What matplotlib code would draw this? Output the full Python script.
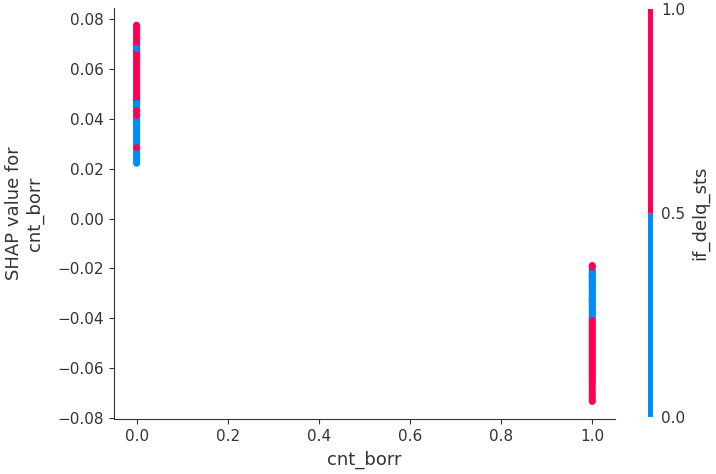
import numpy as np
import matplotlib
matplotlib.use("Agg")
import matplotlib.pyplot as plt
from matplotlib.colors import ListedColormap, Normalize
from matplotlib.cm import ScalarMappable

# ---- data ----
feature_name = "cnt_borr"
color_feature = "if_delq_sts"

# x = 0 group
x0_red_shap = [0.0776, 0.0769, 0.0761, 0.0752, 0.0745, 0.0736, 0.0728, 0.0719, 0.0711,
               0.0703, 0.0694, 0.0686, 0.0677, 0.0670, 0.0661, 0.0653, 0.0645, 0.0636,
               0.0628, 0.0619, 0.0612, 0.0603, 0.0595, 0.0586, 0.0578, 0.0570, 0.0561,
               0.0553, 0.0545, 0.0537, 0.0528, 0.0520, 0.0512, 0.0503, 0.0495, 0.0487,
               0.0479, 0.0471, 0.0464]
x0_blue_shap = [0.0462, 0.0455, 0.0447, 0.0440, 0.0432, 0.0425, 0.0417, 0.0409, 0.0402,
                0.0395, 0.0387, 0.0380, 0.0372, 0.0364, 0.0357, 0.0349, 0.0342, 0.0334,
                0.0327, 0.0319, 0.0312, 0.0304, 0.0297, 0.0289, 0.0282, 0.0274, 0.0266,
                0.0259, 0.0251, 0.0244, 0.0236, 0.0229, 0.0222]
x0_blue_top = [0.0683]
x0_red_top = [0.0434, 0.0414, 0.0285]

# x = 1 group
x1_red_under = [-0.0232, -0.0268, -0.0330]
x1_blue_shap = [-0.0207, -0.0214, -0.0221, -0.0228, -0.0236, -0.0243, -0.0250, -0.0258,
                -0.0265, -0.0272, -0.0280, -0.0287, -0.0294, -0.0302, -0.0309, -0.0316,
                -0.0324, -0.0331, -0.0338, -0.0346, -0.0353, -0.0360, -0.0368, -0.0375,
                -0.0382, -0.0390, -0.0397, -0.0404]
x1_red_shap = [-0.0189, -0.0195, -0.0410, -0.0418, -0.0426, -0.0433, -0.0441, -0.0449,
               -0.0457, -0.0464, -0.0472, -0.0480, -0.0488, -0.0495, -0.0503, -0.0511,
               -0.0519, -0.0526, -0.0534, -0.0542, -0.0550, -0.0557, -0.0565, -0.0573,
               -0.0581, -0.0588, -0.0596, -0.0604, -0.0612, -0.0619, -0.0627, -0.0635,
               -0.0643, -0.0652, -0.0661, -0.0672, -0.0684, -0.0697, -0.0708, -0.0718,
               -0.0727, -0.0734]

# plotting order: (cnt_borr value, delq value, shap list)
groups = [
    (0.0, 1, x0_red_shap),
    (0.0, 0, x0_blue_shap),
    (0.0, 0, x0_blue_top),
    (0.0, 1, x0_red_top),
    (1.0, 1, x1_red_under),
    (1.0, 0, x1_blue_shap),
    (1.0, 1, x1_red_shap),
]

xs, ys, cs = [], [], []
for xv, cv, vals in groups:
    for v in vals:
        xs.append(xv)
        ys.append(v)
        cs.append(cv)
xs = np.array(xs); ys = np.array(ys); cs = np.array(cs)

axis_color = "#333333"
red = "#ff0052"
blue = "#008bfb"
cmap = ListedColormap([blue, red])
norm = Normalize(vmin=0, vmax=1)

fig = plt.figure(figsize=(7.16, 4.74), dpi=100)
ax = fig.add_axes([0.159, 0.116, 0.700, 0.867])
ax.scatter(xs, ys, c=cs, cmap=cmap, norm=norm, s=26, linewidth=0, alpha=1)

ax.set_xlim(-0.05, 1.05)
ax.set_ylim(-0.0805, 0.0845)
ax.set_xticks([0.0, 0.2, 0.4, 0.6, 0.8, 1.0])
ax.set_yticks([-0.08, -0.06, -0.04, -0.02, 0.00, 0.02, 0.04, 0.06, 0.08])
ax.set_yticklabels(["\u22120.08", "\u22120.06", "\u22120.04", "\u22120.02", "0.00",
                    "0.02", "0.04", "0.06", "0.08"])
ax.spines["right"].set_visible(False)
ax.spines["top"].set_visible(False)
ax.spines["left"].set_color(axis_color)
ax.spines["bottom"].set_color(axis_color)
ax.tick_params(color=axis_color, labelcolor=axis_color, labelsize=11)
ax.set_xlabel(feature_name, color=axis_color, fontsize=13, labelpad=5)
ax.set_ylabel("SHAP value for\n" + feature_name, color=axis_color, fontsize=13, labelpad=10)

cax = fig.add_axes([0.905, 0.120, 0.007, 0.861])
sm = ScalarMappable(norm=norm, cmap=cmap)
cb = fig.colorbar(sm, cax=cax, ticks=[0.0, 0.5, 1.0])
cb.outline.set_visible(False)
cb.ax.tick_params(length=0, labelsize=11, labelcolor=axis_color, pad=6)
cb.set_label(color_feature, size=13, color=axis_color)

fig.savefig("out.png", dpi=100)
